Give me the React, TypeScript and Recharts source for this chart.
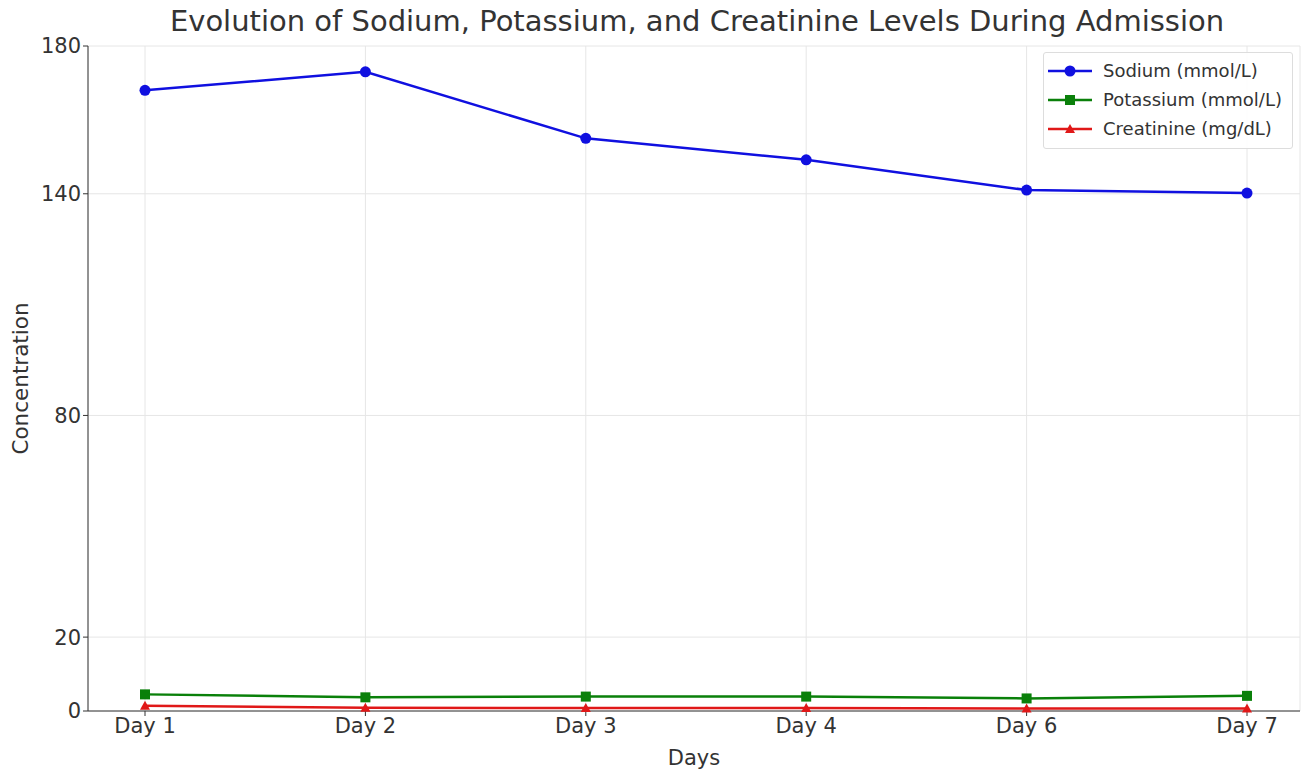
import { CartesianGrid, Legend, Line, LineChart, XAxis, YAxis } from "recharts";

const days = ["Day 1", "Day 2", "Day 3", "Day 4", "Day 6", "Day 7"];
const sodium = [168, 173, 155, 149.2, 141, 140.2];
const potassium = [4.5, 3.7, 3.9, 3.9, 3.4, 4.1];
const creatinine = [1.4, 0.9, 0.8, 0.8, 0.7, 0.7];
const yTicks = [0, 20, 80, 140, 180];

const FONT = "DejaVu Sans, sans-serif";
const TEXT = "#333333";

const data = days.map((day, i) => ({
  day,
  sodium: sodium[i],
  potassium: potassium[i],
  creatinine: creatinine[i],
}));

const seriesList = [
  { key: "sodium", name: "Sodium (mmol/L)", color: "#1010e0", marker: "circle" },
  { key: "potassium", name: "Potassium (mmol/L)", color: "#0a800a", marker: "square" },
  { key: "creatinine", name: "Creatinine (mg/dL)", color: "#e01818", marker: "triangle" },
];

interface DotProps {
  cx?: number;
  cy?: number;
  index?: number;
}

function markerShape(marker: string, color: string, cx: number, cy: number, key?: string | number) {
  if (marker === "square") {
    return <rect key={key} x={cx - 5} y={cy - 5} width={10} height={10} fill={color} />;
  }
  if (marker === "triangle") {
    return (
      <polygon
        key={key}
        points={`${cx},${cy - 5} ${cx - 5},${cy + 4} ${cx + 5},${cy + 4}`}
        fill={color}
      />
    );
  }
  return <circle key={key} cx={cx} cy={cy} r={5.5} fill={color} />;
}

function LegendBox() {
  return (
    <div
      style={{
        border: "1px solid #dddddd",
        borderRadius: 3,
        background: "rgba(255,255,255,0.9)",
        padding: "3px 4px 5px 4px",
        fontFamily: FONT,
        fontSize: 18,
        color: TEXT,
      }}
    >
      {seriesList.map((s) => (
        <div key={s.key} style={{ display: "flex", alignItems: "center", height: 29 }}>
          <svg width={44} height={14} style={{ marginRight: 11 }}>
            <line x1={0} y1={7} x2={44} y2={7} stroke={s.color} strokeWidth={2.5} />
            {markerShape(s.marker, s.color, 22, 7)}
          </svg>
          <span style={{ whiteSpace: "nowrap" }}>{s.name}</span>
        </div>
      ))}
    </div>
  );
}

export default function App() {
  return (
    <div style={{ position: "absolute", left: 0, top: 0, width: 1304, height: 770, background: "#fff" }}>
      <div
        style={{
          position: "absolute",
          left: 0,
          top: 4,
          width: 1394,
          textAlign: "center",
          fontFamily: FONT,
          fontSize: 29,
          color: TEXT,
        }}
      >
        Evolution of Sodium, Potassium, and Creatinine Levels During Admission
      </div>
      <LineChart
        width={1304}
        height={770}
        data={data}
        margin={{ top: 46, right: 4, bottom: 29, left: 8 }}
        style={{ fontFamily: FONT }}
      >
        <CartesianGrid stroke="#e6e6e6" strokeWidth={1} />
        <XAxis
          dataKey="day"
          padding={{ left: 57, right: 53 }}
          height={30}
          tick={{ fill: TEXT, fontSize: 21 }}
          tickSize={5}
          stroke="#333"
          label={{ value: "Days", position: "insideBottom", offset: -24, fill: TEXT, fontSize: 21 }}
        />
        <YAxis
          width={80}
          domain={[0, 180]}
          ticks={yTicks}
          interval={0}
          tick={{ fill: TEXT, fontSize: 21 }}
          tickSize={5}
          stroke="#333"
          label={{
            value: "Concentration",
            angle: -90,
            position: "insideLeft",
            offset: 12,
            fill: TEXT,
            fontSize: 21.5,
            style: { textAnchor: "middle" },
          }}
        />
        {seriesList.map((s) => (
          <Line
            key={s.key}
            type="linear"
            dataKey={s.key}
            name={s.name}
            stroke={s.color}
            strokeWidth={2.5}
            isAnimationActive={false}
            dot={(p: DotProps) => markerShape(s.marker, s.color, p.cx ?? 0, p.cy ?? 0, p.index)}
            activeDot={false}
          />
        ))}
        <Legend
          layout="horizontal"
          verticalAlign="middle"
          align="center"
          content={() => <LegendBox />}
          wrapperStyle={{ position: "absolute", top: 52, left: 1043, width: 250 }}
        />
      </LineChart>
    </div>
  );
}
